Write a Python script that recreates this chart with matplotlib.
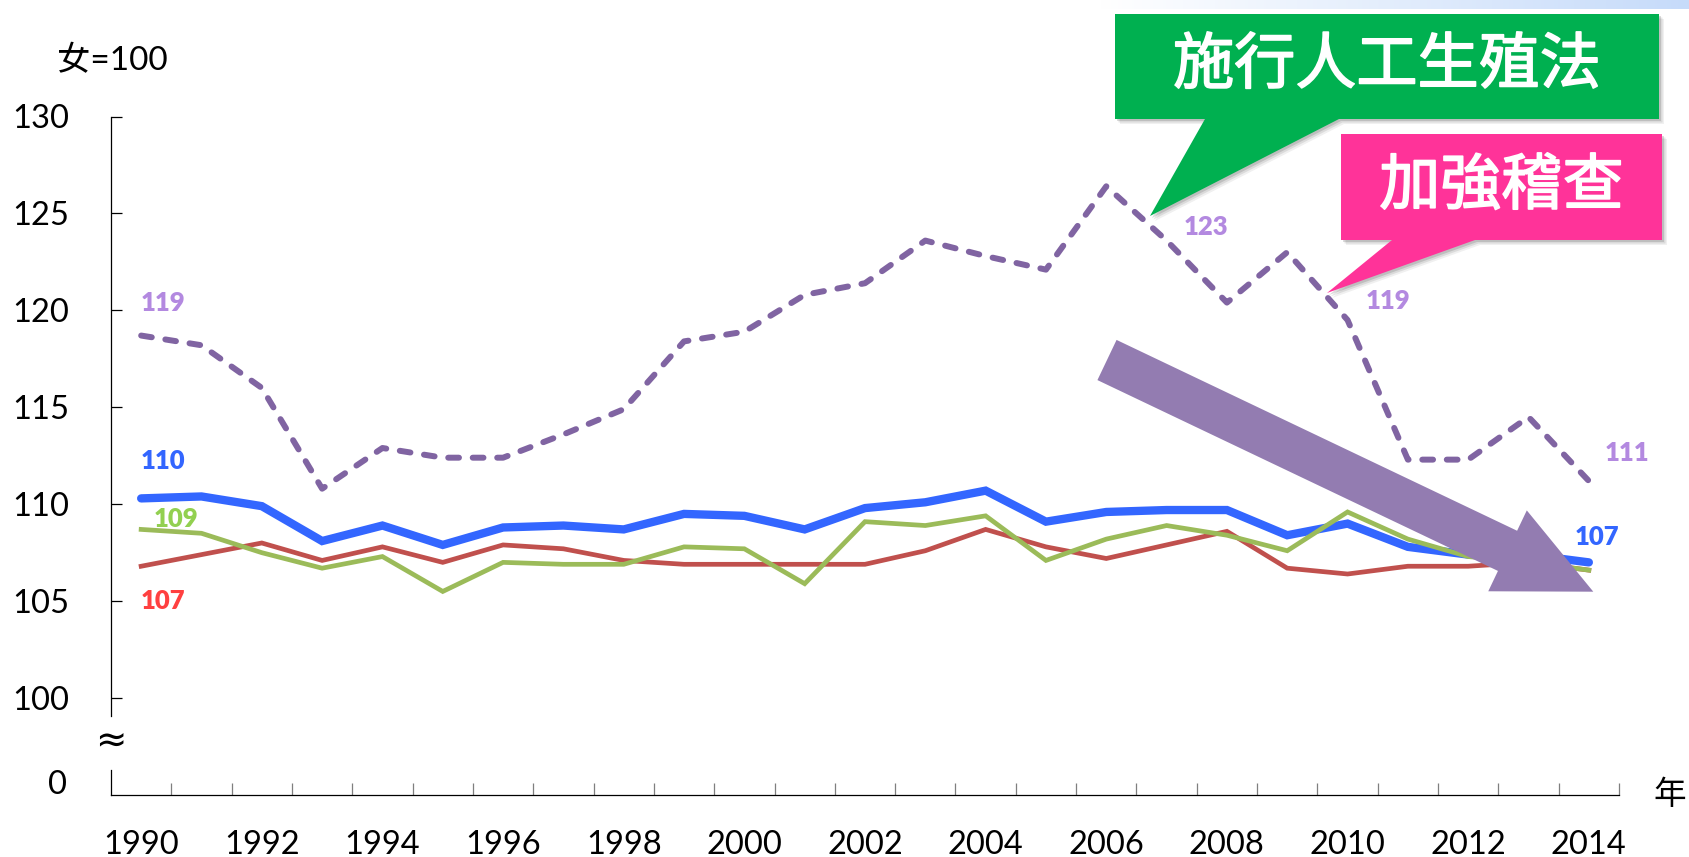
import matplotlib
matplotlib.use("Agg")
import matplotlib.pyplot as plt
import matplotlib.patheffects as pe
import numpy as np
from matplotlib.patches import Polygon, FancyArrow
from matplotlib.colors import LinearSegmentedColormap

plt.rcParams['font.family'] = ['Lato', 'Noto Sans CJK TC', 'DejaVu Sans']

years = list(range(1990, 2015))
# 性別比 (女=100)
purple = [118.7, 118.2, 116.0, 110.8, 112.9, 112.4, 112.4, 113.6, 114.9, 118.4, 118.9, 120.8, 121.4,
          123.6, 122.8, 122.1, 126.4, 123.6, 120.4, 123.0, 119.5, 112.3, 112.3, 114.5, 111.2]
blue = [110.3, 110.4, 109.9, 108.1, 108.9, 107.9, 108.8, 108.9, 108.7, 109.5, 109.4, 108.7, 109.8,
        110.1, 110.7, 109.1, 109.6, 109.7, 109.7, 108.4, 109.0, 107.8, 107.4, 107.4, 107.0]
red = [106.8, 107.4, 108.0, 107.1, 107.8, 107.0, 107.9, 107.7, 107.1, 106.9, 106.9, 106.9, 106.9,
       107.6, 108.7, 107.8, 107.2, 107.9, 108.6, 106.7, 106.4, 106.8, 106.8, 107.0, 106.6]
green = [108.7, 108.5, 107.5, 106.7, 107.3, 105.5, 107.0, 106.9, 106.9, 107.8, 107.7, 105.9, 109.1,
         108.9, 109.4, 107.1, 108.2, 108.9, 108.4, 107.6, 109.6, 108.2, 107.3, 107.0, 106.6]

ytick_vals = [100, 105, 110, 115, 120, 125, 130]
ytick_labels = ['100', '105', '110', '115', '120', '125', '130']
xtick_years = list(range(1990, 2015, 2))

W, H = 1689, 857
fig = plt.figure(figsize=(W / 100, H / 100), dpi=100)
ax = fig.add_axes([111 / W, 1 - 795 / H, (1619 - 111) / W, (795 - 116.5) / H])

ax.plot(years, blue, color='#3366ff', lw=6, solid_capstyle='round', solid_joinstyle='miter', zorder=3)
ax.plot(years, red, color='#c0504d', lw=3.4, solid_joinstyle='miter', zorder=4)
ax.plot(years, green, color='#9bbb59', lw=3.4, solid_joinstyle='miter', zorder=5)
ax.plot(years, purple, color='#8064a2', lw=4.3, linestyle=(0, (1.8, 2.3)),
        dash_capstyle='round', zorder=6)

ax.set_xlim(1989.5, 2014.5)
ax.set_ylim(95, 130)

# axes styling, broken y axis between 100 and 0
for s in ['top', 'right']:
    ax.spines[s].set_visible(False)
ax.spines['left'].set_bounds(99.1, 130)
ax.spines['left'].set_linewidth(0.9)
ax.spines['bottom'].set_linewidth(0.9)
ax.plot([1989.5, 1989.5], [95, 96.3], color='black', lw=0.9, clip_on=False)
ax.text(1989.5, 97.7, '≈', ha='center', va='center', fontsize=27, family=['DejaVu Sans'])

ax.set_yticks(ytick_vals)
ax.set_yticklabels(ytick_labels)
ax.tick_params(axis='y', direction='in', length=8, width=0.9, pad=30, labelsize=23.5)
ax.text(-44 / 1508, 95.5, '0', ha='right', va='center', fontsize=23.5,
        transform=ax.get_yaxis_transform(), clip_on=False)
ax.set_xticks(xtick_years)
ax.set_xticklabels([str(y) for y in xtick_years])
ax.set_xticks([y + 0.5 for y in years], minor=True)
ax.tick_params(axis='x', which='major', length=0, pad=25, labelsize=23.5)
ax.tick_params(axis='x', which='minor', direction='in', length=8.5, width=0.9, color='#7f7f7f')

# data labels
lab_kw = dict(textcoords='offset pixels', fontsize=18.5, fontweight='heavy', va='center', ha='left')
ax.annotate('119', (1990, purple[0]), xytext=(0, 33), color='#b389e0', **lab_kw)
ax.annotate('110', (1990, blue[0]), xytext=(0, 37), color='#3366ff', **lab_kw)
ax.annotate('109', (1990, green[0]), xytext=(13, 10), color='#92d050', **lab_kw)
ax.annotate('107', (1990, red[0]), xytext=(0, -35), color='#ff4040', **lab_kw)
ax.annotate('123', (2007, purple[17]), xytext=(17, 14), color='#b389e0', **lab_kw)
ax.annotate('119', (2010, purple[20]), xytext=(18, 19), color='#b389e0', **lab_kw)
ax.annotate('111', (2014, purple[24]), xytext=(16, 28), color='#b389e0', **lab_kw)
ax.annotate('107', (2014, blue[24]), xytext=(-14, 25), color='#3366ff', **lab_kw)

fig.text(57 / W, 1 - 61 / H, '女=100', ha='left', va='center', fontsize=24)
fig.text(1670 / W, 1 - 795 / H, '年', ha='center', va='center', fontsize=23.5)

# overlay in pixel coordinates for callouts and arrow
ov = fig.add_axes([0, 0, 1, 1])
ov.axis('off')

grad = np.linspace(0, 1, 256).reshape(1, -1)
cmap = LinearSegmentedColormap.from_list('g', ['#ffffff', '#c6dbfa'])
ov.imshow(grad, cmap=cmap, extent=(1100, W, 9, 0), aspect='auto', zorder=1)
ov.set_xlim(0, W)
ov.set_ylim(H, 0)

ov.add_patch(FancyArrow(1107, 360, 486.3, 231.7, width=44.5, head_width=89.6, head_length=95,
                        length_includes_head=True, color='#937cb1', lw=0, zorder=2))

green_box = [(1115, 14), (1659, 14), (1659, 119), (1339, 119), (1150, 216), (1205, 119), (1115, 119)]
pink_box = [(1341, 134), (1662, 134), (1662, 240), (1475, 240), (1327, 293), (1392, 240), (1341, 240)]
for pts, col in [(green_box, '#00b050'), (pink_box, '#ff3399')]:
    for off, a in [(5, 0.08), (3.5, 0.12), (2, 0.18)]:
        ov.add_patch(Polygon([(x + off, y + off) for x, y in pts], closed=True,
                             color='#404040', alpha=a, lw=0, zorder=3))
    ov.add_patch(Polygon(pts, closed=True, color=col, lw=0, zorder=4))

thick = [pe.withStroke(linewidth=1.2, foreground='white')]
ov.text(1387, 66, '施行人工生殖法', ha='center', va='center', color='white', fontsize=44,
        family=['Noto Sans CJK TC'], path_effects=thick, zorder=5)
ov.text(1501.5, 187, '加強稽查', ha='center', va='center', color='white', fontsize=44,
        family=['Noto Sans CJK TC'], path_effects=thick, zorder=5)

fig.savefig('out.png', dpi=100)
